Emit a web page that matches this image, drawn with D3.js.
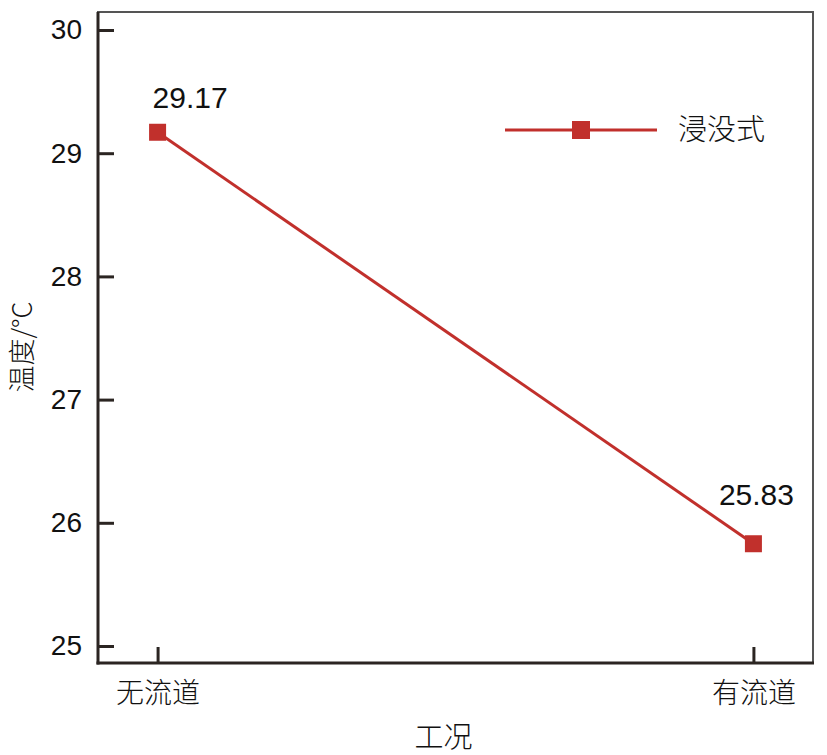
<!DOCTYPE html>
<html><head><meta charset="utf-8">
<script src="https://cdn.jsdelivr.net/npm/d3@7"></script>
<style>body{margin:0;background:#fff}svg{display:block}</style>
</head><body>
<svg id="c" width="827" height="755"></svg>
<script>
const categories = ["无流道", "有流道"];
const values = [29.17, 25.83];
const valueLabels = ["29.17", "25.83"];
const yTicks = [25, 26, 27, 28, 29, 30];
const seriesName = "浸没式";
const xTitle = "工况";
const yTitle = "温度/°C";

const svg = d3.select("#c");
const L = 98, R = 813, T = 12, B = 663;
const red = "#c1302c";
const axisCol = "#2b2522";
const cjk = "'Noto Sans CJK SC', sans-serif";
const num = "'Liberation Sans', Arial, sans-serif";

const x = d3.scalePoint().domain(categories).range([L, R]).padding(0.1);
const y = d3.scaleLinear().domain([25, 30]).range([646, 30]);

// frame
svg.append("rect").attr("x", L).attr("y", T).attr("width", R - L).attr("height", B - T)
  .attr("fill", "none").attr("stroke", "#555").attr("stroke-width", 2);
svg.append("line").attr("x1", L).attr("x2", L).attr("y1", T).attr("y2", B + 1.5).attr("stroke", axisCol).attr("stroke-width", 3);
svg.append("line").attr("x1", L - 1.5).attr("x2", R + 1).attr("y1", B).attr("y2", B).attr("stroke", axisCol).attr("stroke-width", 3);

// y axis
const yAxis = svg.append("g").attr("transform", `translate(${L},0)`)
  .call(d3.axisLeft(y).tickValues(yTicks).tickSize(-16).tickPadding(16).tickFormat(d3.format("d")));
yAxis.select(".domain").remove();
yAxis.selectAll(".tick line").attr("stroke", axisCol).attr("stroke-width", 3);
yAxis.selectAll(".tick text").attr("font-family", num).attr("font-size", 28).attr("fill", "#111");

// x axis
const xAxis = svg.append("g").attr("transform", `translate(0,${B})`)
  .call(d3.axisBottom(x).tickSize(-16).tickPadding(14));
xAxis.select(".domain").remove();
xAxis.selectAll(".tick line").attr("stroke", axisCol).attr("stroke-width", 3);
xAxis.selectAll(".tick text").attr("font-family", cjk).attr("font-size", 28).attr("font-weight", 300)
  .attr("fill", "#111").attr("dy", "0.92em");

// line
const pts = categories.map((c, i) => ({c, v: values[i], lab: valueLabels[i]}));
svg.append("path").datum(pts)
  .attr("d", d3.line().x(d => x(d.c)).y(d => y(d.v)))
  .attr("fill", "none").attr("stroke", red).attr("stroke-width", 3);
const ms = 17;
svg.selectAll("rect.m").data(pts).join("rect").attr("class", "m")
  .attr("x", d => x(d.c) - ms / 2).attr("y", d => y(d.v) - ms / 2)
  .attr("width", ms).attr("height", ms).attr("fill", red);

// value labels
svg.selectAll("text.v").data(pts).join("text").attr("class", "v")
  .attr("x", (d, i) => i === 0 ? x(d.c) - 5 : x(d.c) + 3)
  .attr("y", (d, i) => i === 0 ? y(d.v) - 24 : y(d.v) - 39)
  .attr("text-anchor", (d, i) => i === 0 ? "start" : "middle")
  .attr("font-family", num).attr("font-size", 30).attr("fill", "#111")
  .text(d => d.lab);

// legend
const lg = svg.append("g").attr("transform", "translate(505,130)");
lg.append("line").attr("x1", 0).attr("x2", 152).attr("y1", 0).attr("y2", 0).attr("stroke", red).attr("stroke-width", 3);
lg.append("rect").attr("x", 76 - 9).attr("y", -9).attr("width", 18).attr("height", 18).attr("fill", red);
lg.append("text").attr("x", 173).attr("y", 10).attr("font-family", cjk).attr("font-size", 29).attr("font-weight", 300)
  .attr("fill", "#111").text(seriesName);

// titles
svg.append("text").attr("x", (L + R) / 2 - 12).attr("y", 748).attr("text-anchor", "middle")
  .attr("font-family", cjk).attr("font-size", 29).attr("font-weight", 300).attr("fill", "#111").text(xTitle);
svg.append("text").attr("transform", "translate(32,347) rotate(-90)").attr("text-anchor", "middle")
  .attr("font-family", cjk).attr("font-size", 27).attr("font-weight", 300).attr("fill", "#111").text(yTitle);
</script>
</body></html>
